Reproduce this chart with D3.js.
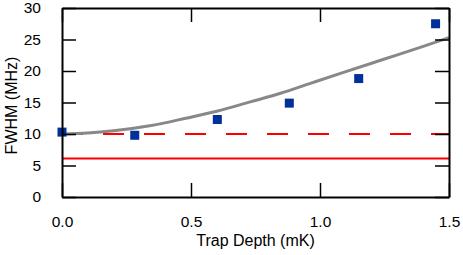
<!DOCTYPE html>
<html>
<head>
<meta charset="utf-8">
<script src="https://cdn.jsdelivr.net/npm/d3@7"></script>
<style>
  body { margin: 0; background: #fff; }
  text { font-family: "Liberation Sans", Arial, sans-serif; fill: #000; }
</style>
</head>
<body>
<div id="chart"></div>
<script>
// measured points
var depth = [0.0, 0.282, 0.602, 0.881, 1.15, 1.448];
var fwhm = [10.3, 9.8, 12.3, 14.9, 18.8, 27.5];

// gray model curve
var curveX = [0, 0.1, 0.2, 0.34, 0.48, 0.6, 0.73, 0.85, 0.96, 1.1, 1.25, 1.4, 1.5];
var curveY = [10.0, 10.15, 10.5, 11.3, 12.5, 13.6, 15.1, 16.5, 18.0, 19.9, 21.9, 23.9, 25.3];

// horizontal reference lines
var dashedLevel = 10.0;
var solidLevel = 6.1;

var xTicks = [0, 0.5, 1.0, 1.5];
var yTicks = [0, 5, 10, 15, 20, 25, 30];

var W = 463, H = 255;
var margin = {top: 8, right: 14, bottom: 58, left: 62};
var width = W - margin.left - margin.right,
    height = H - margin.top - margin.bottom;

var svg = d3.select("#chart").append("svg")
  .attr("width", W)
  .attr("height", H);

var g = svg.append("g")
  .attr("transform", "translate(" + margin.left + "," + margin.top + ")");

var x = d3.scaleLinear().domain([0, 1.5]).range([0, width]);
var y = d3.scaleLinear().domain([0, 30]).range([height, 0]);

// reference lines
g.append("line")
  .attr("x1", 0).attr("x2", width)
  .attr("y1", y(dashedLevel)).attr("y2", y(dashedLevel))
  .attr("stroke", "#ff0000")
  .attr("stroke-width", 2)
  .attr("stroke-dasharray", "21,20");

g.append("line")
  .attr("x1", 0).attr("x2", width)
  .attr("y1", y(solidLevel)).attr("y2", y(solidLevel))
  .attr("stroke", "#ff0000")
  .attr("stroke-width", 2);

// model curve
var line = d3.line()
  .x(function(d) { return x(d[0]); })
  .y(function(d) { return y(d[1]); })
  .curve(d3.curveMonotoneX);

g.append("path")
  .datum(d3.zip(curveX, curveY))
  .attr("d", line)
  .attr("fill", "none")
  .attr("stroke", "#888888")
  .attr("stroke-width", 3);

// data squares
var s = 9;
g.selectAll(".pt")
  .data(d3.zip(depth, fwhm))
  .enter().append("rect")
  .attr("class", "pt")
  .attr("x", function(d) { return x(d[0]) - s / 2; })
  .attr("y", function(d) { return y(d[1]) - s / 2; })
  .attr("width", s)
  .attr("height", s)
  .attr("fill", "#00309a");

// axes, ticks pointing inward
var tickLen = 14;
var xAxis = d3.axisBottom(x).tickValues(xTicks).tickFormat(d3.format(".1f"))
  .tickSizeInner(-tickLen).tickSizeOuter(0).tickPadding(tickLen + 5);
var yAxis = d3.axisLeft(y).tickValues(yTicks)
  .tickSizeInner(-tickLen).tickSizeOuter(0).tickPadding(tickLen + 7);

var gx = g.append("g")
  .attr("transform", "translate(0," + height + ")")
  .call(xAxis);
var gy = g.append("g").call(yAxis);

// mirrored ticks on top and right
g.append("g").call(d3.axisTop(x).tickValues(xTicks)
  .tickSizeInner(-tickLen).tickSizeOuter(0).tickFormat(""));
g.append("g").attr("transform", "translate(" + width + ",0)")
  .call(d3.axisRight(y).tickValues(yTicks)
  .tickSizeInner(-tickLen).tickSizeOuter(0).tickFormat(""));

g.selectAll(".domain").attr("stroke", "#000").attr("stroke-width", 2);
g.selectAll(".tick line").attr("stroke", "#000").attr("stroke-width", 1.5);
g.selectAll(".tick text")
  .style("font-family", "'Liberation Sans', Arial, sans-serif")
  .style("font-size", "15.5px")
  .attr("fill", "#000");

// axis titles
svg.append("text")
  .attr("x", margin.left + width / 2)
  .attr("y", 246)
  .attr("text-anchor", "middle")
  .style("font-size", "16px")
  .text("Trap Depth (mK)");

svg.append("text")
  .attr("transform", "translate(17," + (margin.top + height / 2 + 3) + ") rotate(-90)")
  .attr("text-anchor", "middle")
  .style("font-size", "16px")
  .text("FWHM (MHz)");
</script>
</body>
</html>
